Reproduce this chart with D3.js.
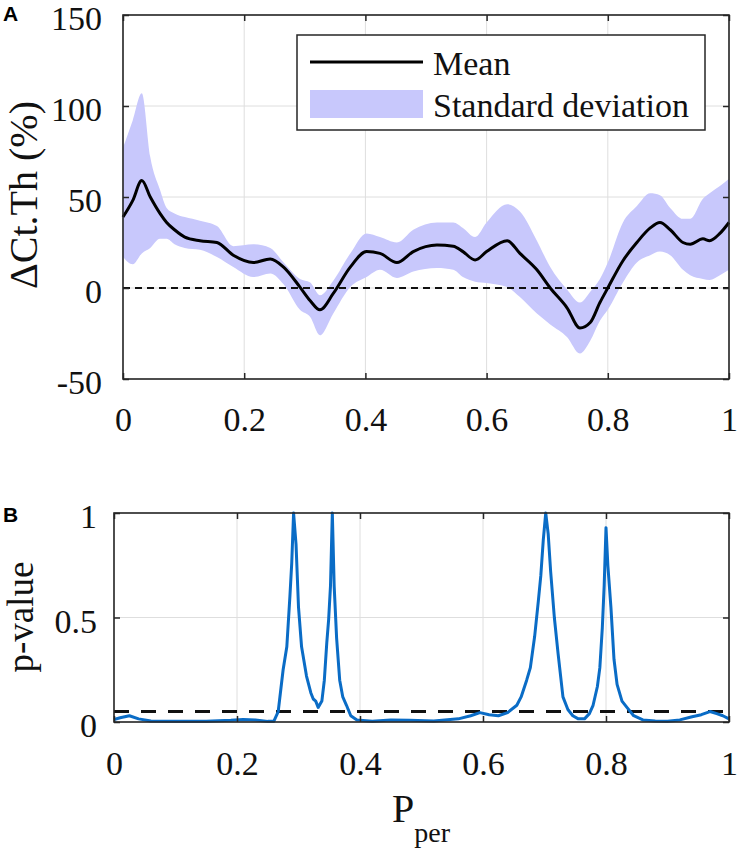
<!DOCTYPE html>
<html>
<head>
<meta charset="utf-8">
<script src="https://cdn.jsdelivr.net/npm/d3@7"></script>
<style>
  html, body { margin: 0; padding: 0; background: #fff; }
  svg { display: block; }
  svg text { font-family: 'Liberation Serif', 'Times New Roman', Times, serif; }
  svg text.panel { font-family: 'Liberation Sans', Arial, sans-serif; font-weight: bold; }
</style>
</head>
<body>
<svg id="chart" width="739" height="851"></svg>
<script>
// ---------- Panel A data ----------
const xA = [0.000,0.016,0.031,0.045,0.061,0.072,0.085,0.102,0.127,0.155,0.182,0.215,0.243,0.265,0.292,0.309,0.325,0.347,0.375,0.402,0.424,0.452,0.479,0.518,0.545,0.561,0.581,0.600,0.634,0.655,0.683,0.705,0.733,0.754,0.771,0.787,0.800,0.825,0.848,0.870,0.886,0.903,0.924,0.936,0.957,0.968,0.985,1.000];
const meanA = [39,48,59,50,41,36,32,28,26,25,18,14,16,11.5,0.5,-7,-12,-3,11.5,20,19,14,20,23.6,23,20,15.4,20,26,19,10,0,-11,-22,-19,-8,0,15,25,33,36,32,25,24,27,26,30,36];
const upperA = [77,92,107,72,54,44,41,39,37,34,23,24,22,14,5,3,-4,4,19,30,28,25,32,36,36,33,28,36,46,42,26,11.5,-1,-8,-2,5,14,36,45,52,51,44,38,38,49,52,56,60];
const lowerA = [17,13,19,22,27,27,24,22,21,17,11.5,6,8,2,-12,-16,-26,-14,0.5,6,10,5.5,9,11,10,6,3.5,2.7,0.5,-5,-14,-20,-27,-36,-29,-18,-12,3,14,18,20,18,10,7,5,4.4,7,10];
const yTicksA = [-50,0,50,100,150];
const yTickLabelsA = ["-50","0","50","100","150"];
const xTicks = [0,0.2,0.4,0.6,0.8,1];
const xTickLabels = ["0","0.2","0.4","0.6","0.8","1"];
const legendLabels = ["Mean","Standard deviation"];

// ---------- Panel B data ----------
const xB = [0.000,0.010,0.025,0.040,0.060,0.100,0.150,0.190,0.210,0.230,0.250,0.260,0.267,0.275,0.281,0.286,0.289,0.292,0.296,0.300,0.305,0.313,0.320,0.324,0.328,0.332,0.338,0.342,0.346,0.349,0.352,0.355,0.358,0.362,0.367,0.372,0.378,0.385,0.395,0.420,0.450,0.480,0.520,0.560,0.580,0.595,0.610,0.625,0.640,0.655,0.662,0.671,0.677,0.684,0.690,0.694,0.698,0.702,0.706,0.710,0.716,0.722,0.730,0.738,0.746,0.755,0.765,0.773,0.779,0.786,0.790,0.794,0.797,0.800,0.803,0.808,0.813,0.818,0.826,0.834,0.845,0.860,0.880,0.900,0.920,0.940,0.955,0.969,0.980,0.990,1.000];
const pValue = [0.012,0.02,0.03,0.015,0.005,0.004,0.004,0.008,0.012,0.01,0.003,0.004,0.05,0.25,0.36,0.6,0.76,1.0,0.85,0.55,0.36,0.22,0.14,0.11,0.10,0.07,0.10,0.2,0.38,0.49,0.65,1.0,0.65,0.4,0.2,0.12,0.08,0.03,0.01,0.004,0.01,0.008,0.005,0.015,0.03,0.045,0.035,0.03,0.045,0.08,0.12,0.2,0.26,0.41,0.58,0.7,0.87,1.0,0.9,0.72,0.5,0.33,0.12,0.06,0.03,0.015,0.015,0.04,0.08,0.17,0.26,0.45,0.65,0.93,0.75,0.55,0.3,0.18,0.1,0.07,0.03,0.01,0.005,0.004,0.01,0.025,0.035,0.05,0.04,0.03,0.015];
const yTicksB = [0,0.5,1];
const yTickLabelsB = ["0","0.5","1"];
const pThreshold = 0.05;

// ---------- Drawing ----------
const svg = d3.select("#chart");
const serif = "'Liberation Serif','Times New Roman',Times,serif";
const gridColor = "#dedede";
const frameColor = "#262626";
const fillColor = "#c8c8fc";
const blue = "#0a6cc6";

function drawGrid(g, x, y, yTicks) {
  const [x0, x1] = x.range();
  const [y0, y1] = y.range();
  g.append("g").selectAll("line").data(xTicks).join("line")
    .attr("x1", d => x(d)).attr("x2", d => x(d)).attr("y1", y0).attr("y2", y1)
    .attr("stroke", gridColor).attr("stroke-width", 1);
  g.append("g").selectAll("line").data(yTicks).join("line")
    .attr("y1", d => y(d)).attr("y2", d => y(d)).attr("x1", x0).attr("x2", x1)
    .attr("stroke", gridColor).attr("stroke-width", 1);
}

function drawAxes(g, x, y, yTicks, yLabels, xPad, yPad) {
  const [x0, x1] = x.range();
  const [y0, y1] = y.range();
  const fmtX = d => xTickLabels[xTicks.indexOf(d)];
  const fmtY = d => yLabels[yTicks.indexOf(d)];
  const axB = g.append("g").attr("transform", `translate(0,${y0})`)
    .call(d3.axisBottom(x).tickValues(xTicks).tickSize(-6).tickPadding(xPad).tickFormat(fmtX));
  const axT = g.append("g").attr("transform", `translate(0,${y1})`)
    .call(d3.axisTop(x).tickValues(xTicks).tickSize(-6).tickFormat(() => ""));
  const axL = g.append("g").attr("transform", `translate(${x0},0)`)
    .call(d3.axisLeft(y).tickValues(yTicks).tickSize(-6).tickPadding(yPad).tickFormat(fmtY));
  const axR = g.append("g").attr("transform", `translate(${x1},0)`)
    .call(d3.axisRight(y).tickValues(yTicks).tickSize(-6).tickFormat(() => ""));
  [axB, axT, axL, axR].forEach(a => {
    a.attr("font-family", serif).attr("font-size", 34);
    a.select(".domain").remove();
    a.selectAll(".tick line").attr("stroke", frameColor).attr("stroke-width", 1.5);
    a.selectAll("text").style("font-family", serif).attr("font-size", 34).attr("fill", "#111");
  });
  axL.selectAll("text").attr("dy", "0.43em");
  g.append("rect").attr("x", x0).attr("y", y1).attr("width", x1 - x0).attr("height", y0 - y1)
    .attr("fill", "none").attr("stroke", frameColor).attr("stroke-width", 1.6);
}

// Panel A
const xScaleA = d3.scaleLinear().domain([0, 1]).range([123, 729]);
const yScaleA = d3.scaleLinear().domain([-50, 150]).range([379, 15]);
const gA = svg.append("g");
drawGrid(gA, xScaleA, yScaleA, yTicksA);

const bandData = xA.map((d, i) => ({x: d, lo: lowerA[i], hi: upperA[i], m: meanA[i]}));
gA.append("path").datum(bandData)
  .attr("d", d3.area().x(d => xScaleA(d.x)).y0(d => yScaleA(d.lo)).y1(d => yScaleA(d.hi)).curve(d3.curveMonotoneX))
  .attr("fill", fillColor).attr("stroke", "none");
gA.append("line")
  .attr("x1", xScaleA(0)).attr("x2", xScaleA(1)).attr("y1", yScaleA(0)).attr("y2", yScaleA(0))
  .attr("stroke", "#111").attr("stroke-width", 2).attr("stroke-dasharray", "7,5");
gA.append("path").datum(bandData)
  .attr("d", d3.line().x(d => xScaleA(d.x)).y(d => yScaleA(d.m)).curve(d3.curveMonotoneX))
  .attr("fill", "none").attr("stroke", "#000").attr("stroke-width", 3).attr("stroke-linejoin", "round");
drawAxes(gA, xScaleA, yScaleA, yTicksA, yTickLabelsA, 28, 21);

// legend
const leg = gA.append("g");
leg.append("rect").attr("x", 297).attr("y", 35).attr("width", 408).attr("height", 95)
  .attr("fill", "#fff").attr("stroke", frameColor).attr("stroke-width", 1.5);
leg.append("line").attr("x1", 310).attr("x2", 423).attr("y1", 62).attr("y2", 62)
  .attr("stroke", "#000").attr("stroke-width", 3);
leg.append("rect").attr("x", 310).attr("y", 90).attr("width", 113).attr("height", 28).attr("fill", fillColor);
leg.selectAll("text").data(legendLabels).join("text")
  .attr("x", 433).attr("y", (d, i) => 75 + i * 42)
  .attr("font-size", 34).attr("fill", "#111").text(d => d);

// y label A
svg.append("text").attr("transform", "translate(37,195) rotate(-90)")
  .attr("text-anchor", "middle").attr("font-size", 40).attr("fill", "#111")
  .text("ΔCt.Th (%)");
svg.append("text").attr("class", "panel").attr("x", 3).attr("y", 21)
  .attr("font-size", 21).attr("fill", "#000").text("A");

// Panel B
const xScaleB = d3.scaleLinear().domain([0, 1]).range([114, 729]);
const yScaleB = d3.scaleLinear().domain([0, 1]).range([722, 513]);
const gB = svg.append("g");
drawGrid(gB, xScaleB, yScaleB, yTicksB);
const pData = xB.map((d, i) => ({x: d, p: pValue[i]}));
gB.append("line")
  .attr("x1", xScaleB(0)).attr("x2", xScaleB(1)).attr("y1", yScaleB(pThreshold)).attr("y2", yScaleB(pThreshold))
  .attr("stroke", "#111").attr("stroke-width", 3).attr("stroke-dasharray", "15,12");
gB.append("path").datum(pData)
  .attr("d", d3.line().x(d => xScaleB(d.x)).y(d => yScaleB(d.p)))
  .attr("fill", "none").attr("stroke", blue).attr("stroke-width", 3).attr("stroke-linejoin", "round");
drawAxes(gB, xScaleB, yScaleB, yTicksB, yTickLabelsB, 29, 17);

svg.append("text").attr("transform", "translate(33,617) rotate(-90)")
  .attr("text-anchor", "middle").attr("font-size", 37).attr("fill", "#111")
  .text("p-value");
const xl = svg.append("text").attr("x", 421).attr("y", 822).attr("text-anchor", "middle")
  .attr("fill", "#111");
xl.append("tspan").attr("font-size", 40).text("P");
xl.append("tspan").attr("font-size", 28).attr("dy", 20).text("per");
svg.append("text").attr("class", "panel").attr("x", 3).attr("y", 522)
  .attr("font-size", 21).attr("fill", "#000").text("B");
</script>
</body>
</html>
